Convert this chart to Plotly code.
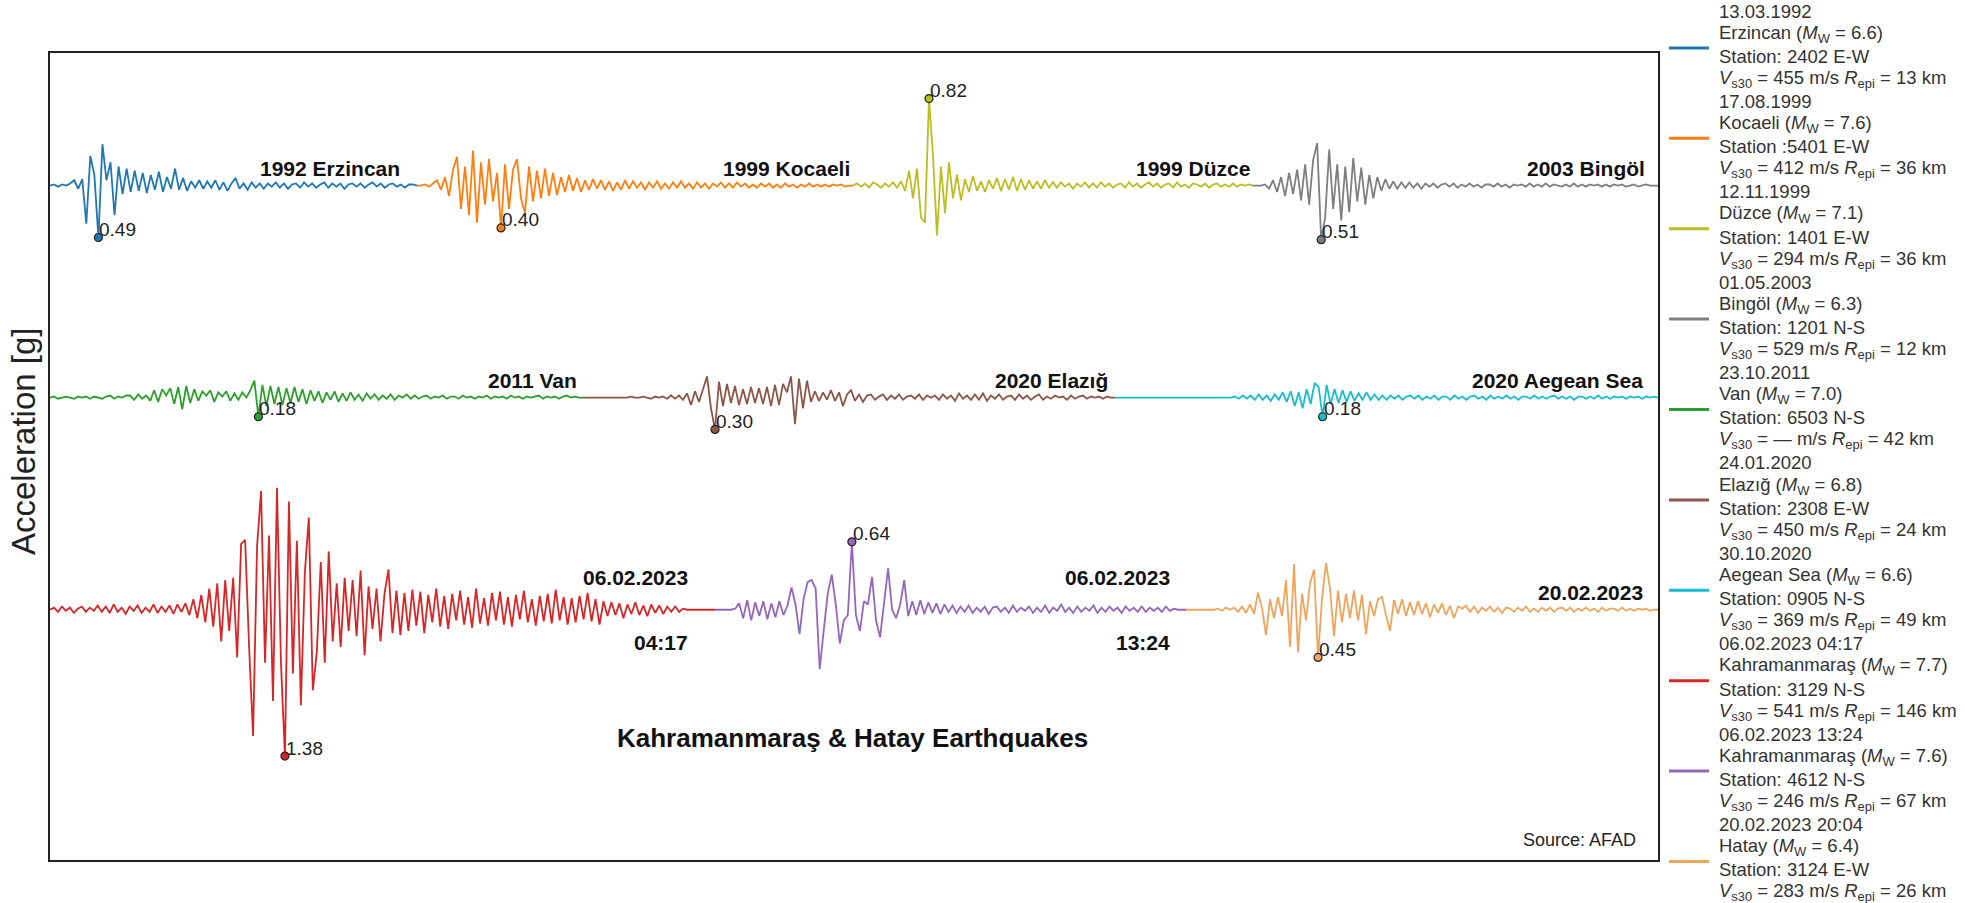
import numpy as np
import plotly.graph_objects as go

# ------------------------------------------------------------------ data
event_labels = ["1992 Erzincan", "1999 Kocaeli", "1999 Düzce", "2003 Bingöl",
                "2011 Van", "2020 Elazığ", "2020 Aegean Sea",
                "06.02.2023", "06.02.2023", "20.02.2023"]
event_times = ["", "", "", "", "", "", "", "04:17", "13:24", ""]
rows = [0, 0, 0, 0, 1, 1, 1, 2, 2, 2]
durations = [36.7, 43.6, 40.0, 40.5, 53.3, 53.2, 54.3, 66.5, 47.1, 47.2]
pga = [0.49, 0.40, 0.82, 0.51, 0.18, 0.30, 0.18, 1.38, 0.64, 0.45]
colors = ["#1f77b4", "#ff7f0e", "#bcbd22", "#7f7f7f", "#2ca02c",
          "#8c564b", "#17becf", "#d62728", "#9467bd", "#f0a45c"]

leg_dates = ["13.03.1992", "17.08.1999", "12.11.1999", "01.05.2003", "23.10.2011",
             "24.01.2020", "30.10.2020", "06.02.2023 04:17", "06.02.2023 13:24",
             "20.02.2023 20:04"]
leg_places = ["Erzincan", "Kocaeli", "Düzce", "Bingöl", "Van", "Elazığ",
              "Aegean Sea", "Kahramanmaraş", "Kahramanmaraş", "Hatay"]
leg_mw = ["6.6", "7.6", "7.1", "6.3", "7.0", "6.8", "6.6", "7.7", "7.6", "6.4"]
leg_stations = ["Station: 2402 E-W", "Station :5401 E-W", "Station: 1401 E-W",
                "Station: 1201 N-S", "Station: 6503 N-S", "Station: 2308 E-W",
                "Station: 0905 N-S", "Station: 3129 N-S", "Station: 4612 N-S",
                "Station: 3124 E-W"]
leg_vs30 = ["455", "412", "294", "529", "—", "450", "369", "541", "246", "283"]
leg_repi = ["13", "36", "36", "12", "42", "24", "49", "146", "67", "26"]

acc_erzincan = [
    0.00, 0.01, -0.01, 0.01, 0.00, 0.02, 0.05, -0.03, 0.06,
    -0.36, 0.28, 0.10, -0.49, 0.39, 0.05, 0.22, -0.28, 0.18, -0.08,
    0.16, -0.06, 0.14, -0.05, 0.12, -0.07, 0.10, -0.04, 0.13, -0.06,
    0.08, -0.03, 0.16, -0.04, 0.07, -0.05, 0.04, -0.02, 0.05, -0.03,
    0.04, -0.02, 0.05, -0.04, 0.03, -0.05, 0.02, 0.07, -0.03, 0.02,
    -0.04, 0.03, -0.02, 0.02, -0.03, 0.02, -0.01, 0.03, -0.02, 0.02,
    -0.03, 0.01, 0.02, -0.02, 0.03, -0.01, 0.02, -0.02, 0.01, 0.03,
    -0.02, 0.02, -0.01, 0.02, -0.03, 0.01, 0.02, -0.01, 0.02, -0.02,
    0.01, 0.03, -0.01, 0.02, -0.02, 0.01, 0.02, -0.01, 0.01, -0.02,
    0.01, 0.01, 0.00]
acc_kocaeli = [
    0.00, 0.00, 0.01, -0.01, 0.02, 0.05, -0.04, 0.08, -0.10, 0.15,
    0.27, -0.22, 0.18, -0.28, 0.33, -0.35, 0.22, -0.18, 0.25, -0.15,
    0.12, -0.40, 0.20, -0.22, 0.15, 0.25, -0.12, -0.26, 0.18, -0.15,
    0.14, -0.12, 0.16, -0.10, 0.12, -0.09, 0.08, -0.06, 0.10, -0.05,
    0.07, -0.06, 0.05, -0.04, 0.06, -0.03, 0.05, -0.04, 0.04, -0.05,
    0.03, -0.04, 0.05, -0.03, 0.04, -0.02, 0.03, -0.04, 0.03, -0.02,
    0.04, -0.03, 0.02, -0.03, 0.03, -0.02, 0.04, -0.02, 0.02, -0.03,
    0.03, -0.02, 0.02, -0.03, 0.02, -0.01, 0.03, -0.02, 0.02, -0.02,
    0.03, -0.01, 0.02, -0.02, 0.01, -0.02, 0.02, -0.01, 0.02, -0.02,
    0.01, -0.02, 0.02, -0.01, 0.01, -0.02, 0.01, -0.01, 0.02, -0.01,
    0.01, -0.01, 0.01, -0.01, 0.01, 0.00, 0.01, -0.01, 0.00, 0.00]
acc_duzce = [
    0.00, 0.02, -0.01, 0.02, -0.02, 0.03, 0.01, -0.02, 0.02, -0.01,
    0.03, -0.02, 0.04, -0.05, 0.14, -0.12, 0.16, -0.30, -0.35, 0.82,
    0.28, -0.47, 0.18, -0.26, 0.22, -0.12, 0.10, -0.14, 0.06, -0.06,
    0.09, -0.05, 0.04, -0.06, 0.05, -0.03, 0.07, -0.05, 0.06, -0.04,
    0.08, -0.05, 0.06, -0.04, 0.05, -0.03, 0.04, -0.03, 0.05, -0.02,
    0.03, -0.02, 0.03, -0.01, 0.02, -0.03, 0.02, -0.01, 0.03, -0.02,
    0.02, -0.02, 0.03, -0.01, 0.02, -0.02, 0.01, 0.02, -0.02, 0.03,
    -0.01, 0.02, -0.02, 0.01, 0.03, -0.01, 0.02, -0.02, 0.01, 0.02,
    -0.02, 0.03, -0.01, 0.01, -0.02, 0.02, 0.01, -0.01, 0.02, -0.02,
    0.01, 0.02, -0.01, 0.01, -0.01, 0.02, -0.01, 0.01, 0.00, 0.01, 0.00]
acc_bingol = [
    0.00, 0.00, 0.00, 0.01, -0.03, 0.05, -0.06, 0.08, -0.10, 0.12,
    -0.08, 0.15, -0.14, 0.20, -0.18, 0.24, 0.40, -0.51, -0.30, 0.34,
    -0.22, 0.20, -0.33, 0.18, -0.25, 0.26, -0.15, 0.17, -0.18, 0.10,
    -0.12, 0.08, -0.05, 0.06, -0.03, 0.04, -0.03, 0.03, -0.02, 0.03,
    -0.02, 0.02, -0.03, 0.02, -0.01, 0.02, -0.02, 0.01, 0.02, -0.01,
    0.02, -0.02, 0.01, -0.01, 0.02, -0.01, 0.01, -0.02, 0.01, 0.01,
    -0.01, 0.02, -0.01, 0.01, -0.02, 0.01, 0.00, 0.01, -0.01, 0.02,
    -0.01, 0.01, -0.01, 0.02, -0.01, 0.01, 0.00, -0.01, 0.01, -0.01,
    0.02, -0.01, 0.01, -0.01, 0.01, 0.00, 0.01, -0.01, 0.01, -0.01,
    0.01, 0.00, 0.01, -0.01, 0.00, 0.01, -0.01, 0.00, 0.01, 0.00, 0.00, 0.00]
acc_van = [
    0.00, 0.01, -0.01, 0.00, 0.01, 0.00, -0.01, 0.01, 0.00, 0.01,
    -0.01, 0.01, 0.00, -0.01, 0.01, 0.02, -0.01, 0.01, 0.00, 0.02,
    0.02, -0.02, 0.03, -0.01, 0.02, -0.03, 0.07, -0.04, 0.08, 0.02,
    0.09, -0.06, 0.10, -0.11, 0.11, -0.05, 0.08, -0.03, 0.06, 0.02,
    0.07, -0.04, 0.05, 0.01, 0.06, -0.03, 0.04, -0.02, 0.05, 0.00,
    0.07, 0.16, -0.18, 0.12, -0.08, 0.11, -0.06, 0.10, -0.07, 0.09,
    -0.05, 0.10, -0.04, 0.08, -0.06, 0.07, -0.03, 0.06, -0.05, 0.05,
    -0.02, 0.06, -0.04, 0.04, -0.03, 0.05, -0.02, 0.03, -0.03, 0.04,
    -0.01, 0.03, -0.02, 0.02, -0.01, 0.03, -0.02, 0.02, 0.00, 0.03,
    -0.01, 0.02, -0.01, 0.01, 0.02, -0.01, 0.01, 0.00, 0.02, -0.01,
    0.01, 0.01, -0.01, 0.02, 0.00, 0.01, -0.01, 0.01, 0.00, 0.02,
    -0.01, 0.01, 0.00, 0.01, -0.01, 0.02, 0.00, 0.01, -0.01, 0.01,
    0.00, 0.01, 0.02, -0.01, 0.01, 0.00, 0.01, -0.01, 0.01, 0.02,
    0.00, 0.01, 0.00, 0.00]
acc_elazig = [
    0.00, 0.00, 0.00, 0.00, 0.00, 0.00, 0.00, 0.00, 0.00, 0.00,
    0.00, 0.00, 0.01, 0.00, 0.00, 0.01, 0.00, -0.01, 0.01,
    0.00, 0.01, -0.01, 0.02, -0.01, 0.02, -0.02, 0.04, -0.07, 0.06, -0.04,
    0.08, 0.20, -0.10, -0.30, 0.15, -0.08, 0.13, -0.05, 0.11, -0.07,
    0.08, -0.06, 0.10, -0.05, 0.09, -0.06, 0.10, -0.08, 0.12, -0.07,
    0.13, 0.05, 0.20, -0.25, 0.18, -0.10, 0.16, -0.04, 0.06, -0.03,
    0.05, -0.02, 0.07, -0.03, 0.05, -0.08, 0.03, 0.07, -0.03, 0.03,
    -0.04, 0.02, 0.03, -0.02, 0.01, 0.03, -0.02, 0.02, -0.01, 0.03,
    -0.02, 0.01, 0.02, -0.01, 0.03, -0.02, 0.02, 0.00, 0.02, -0.02,
    0.03, -0.01, 0.02, -0.03, 0.04, -0.01, 0.02, -0.02, 0.03, -0.02,
    0.04, -0.03, 0.02, -0.01, 0.03, -0.02, 0.01, 0.02, -0.02, 0.03,
    -0.01, 0.02, -0.02, 0.01, 0.03, -0.02, 0.01, -0.01, 0.02, 0.00,
    0.01, -0.02, 0.02, -0.01, 0.01, 0.02, -0.01, 0.01, 0.00, 0.01,
    -0.01, 0.01, 0.00, 0.00]
acc_aegean = [
    0.00, 0.00, 0.00, 0.00, 0.00, 0.00, 0.00, 0.00, 0.00, 0.00,
    0.00, 0.00, 0.00, 0.00, 0.00, 0.00, 0.00, 0.00, 0.00, 0.00,
    0.00, 0.00, 0.00, 0.00, 0.00, 0.00, 0.00, 0.00, 0.00, 0.00,
    0.01, -0.01, 0.02, -0.01, 0.02, -0.02, 0.03, -0.02, 0.02, -0.03, 0.03, -0.02,
    0.05, -0.04, 0.06, -0.08, 0.05, -0.10, 0.08, -0.06, 0.14, 0.10, -0.18, 0.12,
    -0.06, 0.08, -0.05, 0.07, -0.04, 0.06, -0.03, 0.04, -0.02, 0.05, -0.02, 0.03, -0.02, 0.02,
    -0.02, 0.02, -0.01, 0.02, -0.02, 0.01, 0.02, -0.01, 0.02, -0.02,
    0.01, -0.01, 0.02, -0.02, 0.01, 0.01, -0.02, 0.02, -0.01, 0.01,
    -0.02, 0.01, 0.02, -0.01, 0.01, -0.02, 0.02, -0.01, 0.01, -0.01,
    0.02, -0.01, 0.01, -0.02, 0.01, 0.01, -0.01, 0.02, -0.01, 0.01,
    -0.01, 0.01, 0.02, -0.01, 0.01, -0.01, 0.01, -0.02, 0.01, 0.01,
    -0.01, 0.01, -0.01, 0.02, -0.01, 0.01, -0.01, 0.01, 0.00, 0.01,
    -0.01, 0.01, 0.00, 0.01, -0.01, 0.01, 0.00, 0.01, 0.00]
acc_kahramanmaras1 = [
    0.00,
    0.02, -0.02, 0.03, -0.01, 0.02, -0.03, 0.01, 0.03, -0.02, 0.02,
    -0.01, 0.04, -0.02, 0.03, -0.03, 0.05, -0.02, 0.02, -0.04, 0.03,
    -0.01, 0.04, -0.03, 0.02, -0.02, 0.05, -0.03, 0.03, -0.02, 0.04,
    -0.04, 0.05, -0.02, 0.06,
    -0.05, 0.10, -0.08, 0.14, -0.12, 0.20, -0.16, 0.25, -0.30, 0.28,
    -0.20, 0.30, -0.45, 0.62, 0.66, -0.35, -1.19, 0.60, 1.12, -0.50,
    0.70, -0.86, 1.15, -0.50, -1.38, 1.02, -0.60, 0.65, -0.90, 0.35,
    0.87, -0.76, -0.40, 0.45, -0.50, 0.55, -0.30, 0.25, -0.35, 0.30,
    -0.20, 0.28, -0.25, 0.37, -0.43, 0.22, -0.18, 0.20, -0.30, 0.15,
    0.38, -0.22, 0.18, -0.24, 0.16, -0.20, 0.19, -0.15, 0.17, -0.22,
    0.14, -0.12, 0.20, -0.16, 0.13, -0.18, 0.15, -0.10, 0.18, -0.14,
    0.12, -0.17, 0.20, -0.13, 0.11, -0.15, 0.16, -0.10, 0.17, -0.14,
    0.12, -0.16, 0.14, -0.09, 0.18, -0.12, 0.10, -0.15, 0.13, -0.11,
    0.15, -0.13, 0.19, -0.10, 0.12, -0.14, 0.11, -0.12, 0.13, -0.09,
    0.16, -0.11, 0.10, -0.14, 0.08, -0.06, 0.07, -0.05, 0.06, -0.08,
    0.05, -0.04, 0.07, -0.05, 0.04, -0.06, 0.05, -0.03, 0.04, -0.04,
    0.03, -0.02, 0.03, -0.02, 0.01, 0.00, 0.00, 0.00, 0.00, 0.00, 0.00, 0.00, 0.00]
acc_kahramanmaras2 = [
    0.00, 0.00, 0.00, 0.00, 0.00, 0.01,
    0.06, -0.08, 0.09, -0.10, 0.07, -0.06, 0.08, -0.09, 0.06, -0.07, 0.08, -0.05, 0.04,
    0.21, 0.05, -0.23, 0.10, 0.26, 0.28, 0.20, -0.56, -0.20, 0.15, 0.33, 0.05, -0.32, -0.10, -0.05,
    0.64, -0.05, -0.20, 0.08, 0.05, 0.31, -0.10, -0.26, 0.05, 0.39, 0.00, -0.08, 0.05, 0.28,
    -0.06, 0.08, -0.05, 0.09, -0.04, 0.07, -0.03, 0.06, -0.04, 0.05, -0.02, 0.04,
    -0.03, 0.03, -0.02, 0.04, -0.03, 0.02, -0.02, 0.03, -0.04, 0.02,
    0.03, -0.02, 0.02, -0.03, 0.04, -0.02, 0.02, -0.01, 0.03, -0.03,
    0.02, -0.02, 0.04, -0.03, 0.02, -0.01, 0.05, -0.02, 0.02, -0.03,
    0.03, -0.02, 0.02, -0.01, 0.04, -0.03, 0.02, -0.02, 0.03, -0.01,
    0.02, -0.03, 0.03, -0.01, 0.02, -0.02, 0.03, -0.02, 0.02, -0.01,
    0.02, -0.02, 0.03, -0.01, 0.01, 0.00, 0.00, 0.00]
acc_hatay = [
    0.00, 0.00, 0.00, 0.00, 0.00, 0.00, 0.00, 0.00,
    0.01, -0.01, 0.02, 0.00, 0.02, -0.02, 0.03, -0.03, 0.05, -0.04,
    0.16, 0.02, -0.24, 0.10, -0.08, 0.12, -0.06, 0.28, -0.35, 0.43,
    -0.40, 0.15, -0.10, 0.25, 0.38, -0.45, 0.10, 0.44, 0.20, -0.25,
    0.18, -0.12, 0.15, -0.08, 0.18, -0.10, 0.14, -0.23, 0.08, -0.06,
    0.10, 0.12, -0.05, -0.20, 0.09, -0.04, 0.10, -0.06, 0.07, -0.05,
    0.08, -0.04, 0.06, -0.07, 0.05, -0.03, 0.06, -0.05, 0.04, -0.08, 0.03,
    0.01, 0.04, -0.02, 0.03, -0.03, 0.02, -0.01, 0.03, -0.02, 0.02,
    -0.03, 0.02, 0.01, -0.02, 0.02, -0.01, 0.03, -0.02, 0.01, -0.02,
    0.02, -0.01, 0.02, -0.02, 0.01, 0.02, -0.01, 0.02, -0.02, 0.01,
    -0.01, 0.02, -0.01, 0.01, -0.02, 0.02, -0.01, 0.01, 0.01, -0.01,
    0.02, -0.01, 0.01, -0.01, 0.01, 0.00, 0.01, -0.01, 0.00, 0.00]

records = [acc_erzincan, acc_kocaeli, acc_duzce, acc_bingol, acc_van, acc_elazig,
           acc_aegean, acc_kahramanmaras1, acc_kahramanmaras2, acc_hatay]

# ------------------------------------------------------------------ layout constants
W, H = 1965, 903
PX_L, PX_R, PX_T, PX_B = 50, 1658, 53, 860
row_offset = [4.0, 2.0, 0.0]          # vertical offset of each row (g)
YR = [-2.36, 5.25]
FONT = "Liberation Sans, Arial, sans-serif"


def paper_x(px):
    return (px - PX_L) / (PX_R - PX_L)


def paper_y(py):
    return (PX_B - py) / (PX_B - PX_T)


fig = go.Figure()

row_start = [0.0, 0.0, 0.0]
starts, ends = [], []
for k, vals in enumerate(records):
    r = rows[k]
    t0 = row_start[r]
    t = t0 + np.linspace(0, durations[k], len(vals))
    row_start[r] = t0 + durations[k]
    starts.append(t0)
    ends.append(t0 + durations[k])
    y = np.array(vals) + row_offset[r]
    fig.add_trace(go.Scatter(x=t, y=y, mode="lines",
                             line=dict(color=colors[k], width=1.8),
                             hoverinfo="skip", showlegend=False))

# peak markers and values
for k, vals in enumerate(records):
    r = rows[k]
    t = starts[k] + np.linspace(0, durations[k], len(vals))
    i = int(np.argmax(np.abs(vals)))
    fig.add_trace(go.Scatter(x=[t[i]], y=[vals[i] + row_offset[r]], mode="markers",
                             marker=dict(color=colors[k], size=8,
                                         line=dict(color="#222", width=1.2)),
                             hoverinfo="skip", showlegend=False))
    fig.add_annotation(x=t[i], y=vals[i] + row_offset[r], text=f"{pga[k]:.2f}",
                       showarrow=False, xanchor="left", yanchor="middle",
                       xshift=-1, yshift=8,
                       font=dict(family=FONT, size=19, color="#222"))

# event labels
label_xshift = [-15, -1, -1, -11, -4, -5, -13, -25, -14, -13]
for k in range(len(records)):
    r = rows[k]
    ys = 32 if event_times[k] else 17
    fig.add_annotation(x=ends[k], y=row_offset[r], text=f"<b>{event_labels[k]}</b>",
                       showarrow=False, xanchor="right", yanchor="middle",
                       xshift=label_xshift[k], yshift=ys,
                       font=dict(family=FONT, size=21, color="#111"))
    if event_times[k]:
        fig.add_annotation(x=ends[k], y=row_offset[r], text=f"<b>{event_times[k]}</b>",
                           showarrow=False, xanchor="right", yanchor="middle",
                           xshift=label_xshift[k], yshift=-33,
                           font=dict(family=FONT, size=21, color="#111"))

# headline, source, axis title
fig.add_annotation(xref="paper", yref="paper", x=paper_x(852), y=paper_y(738),
                   text="<b>Kahramanmaraş & Hatay Earthquakes</b>", showarrow=False,
                   xanchor="center", yanchor="middle",
                   font=dict(family=FONT, size=26, color="#111"))
fig.add_annotation(xref="paper", yref="paper", x=paper_x(1638), y=paper_y(840),
                   text="Source: AFAD", showarrow=False,
                   xanchor="right", yanchor="middle",
                   font=dict(family=FONT, size=18, color="#222"))
fig.add_annotation(xref="paper", yref="paper", x=paper_x(24), y=paper_y(442),
                   text="Acceleration [g]", showarrow=False, textangle=-90,
                   xanchor="center", yanchor="middle",
                   font=dict(family=FONT, size=33, color="#222"))

# custom legend (right side)
LINE_H = 22.6
for k in range(len(records)):
    lines = [leg_dates[k],
             f"{leg_places[k]} (<i>M</i><sub>W</sub> = {leg_mw[k]})",
             leg_stations[k],
             f"<i>V</i><sub>s30</sub> = {leg_vs30[k]} m/s <i>R</i><sub>epi</sub> = {leg_repi[k]} km"]
    for j, txt in enumerate(lines):
        fig.add_annotation(xref="paper", yref="paper", x=paper_x(1717),
                           y=paper_y(11 + LINE_H * (4 * k + j)), text=txt, showarrow=False,
                           xanchor="left", yanchor="middle",
                           font=dict(family=FONT, size=18.5, color="#333"))
    ly = 11 + LINE_H * (4 * k + 1.5) + 3
    fig.add_shape(type="line", xref="paper", yref="paper",
                  x0=paper_x(1669), x1=paper_x(1709),
                  y0=paper_y(ly), y1=paper_y(ly),
                  line=dict(color=colors[k], width=3))

axis_common = dict(showgrid=False, zeroline=False, showticklabels=False, ticks="",
                   showline=True, linecolor="#222", linewidth=1.5, mirror=True)
fig.update_layout(
    width=W, height=H,
    margin=dict(l=PX_L, r=W - PX_R, t=PX_T, b=H - PX_B),
    paper_bgcolor="white", plot_bgcolor="white",
    xaxis=dict(range=[0, 160.8], **axis_common),
    yaxis=dict(range=YR, **axis_common),
    showlegend=False,
    font=dict(family=FONT),
)

fig.write_html("out.html", config={"displayModeBar": False},
               post_script="document.body.style.margin='0px';document.body.style.overflow='hidden';")
